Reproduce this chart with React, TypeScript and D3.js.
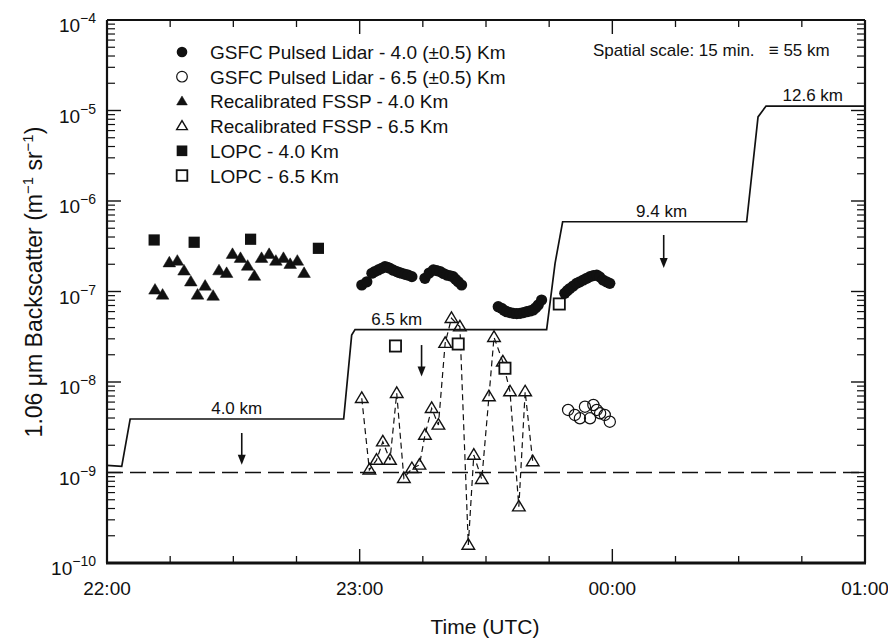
import React from "react";
import * as d3 from "d3";

// ---------- data (time in minutes after 22:00 UTC, backscatter in m^-1 sr^-1) ----------
const timeTickMinutes = [0, 60, 120, 180];
const timeTickLabels = ["22:00", "23:00", "00:00", "01:00"];
const decadeExponents = [-10, -9, -8, -7, -6, -5, -4];

// GSFC Pulsed Lidar - 4.0 (±0.5) Km (filled circles)
const gsfc40Min = [60.5, 61.7, 62.9, 63.6, 64.4, 65.2, 66.0, 66.6, 67.2, 68.0, 68.8, 69.4, 70.0, 70.8, 71.5, 72.4,
  75.5, 76.5, 77.5, 78.3, 79.1, 79.9, 80.7, 81.5, 82.2, 82.8, 83.4, 84.2,
  92.9, 93.7, 94.3, 94.9, 95.7, 96.5, 97.3, 98.1, 98.9, 99.7, 100.5, 101.2, 101.8, 102.4, 103.2,
  108.7, 109.3, 109.9, 110.7, 111.5, 112.3, 113.1, 113.9, 114.7, 115.5, 116.3, 117.0, 117.8, 118.6, 119.4];
const gsfc40Val = [1.18e-7, 1.28e-7, 1.59e-7, 1.66e-7, 1.73e-7, 1.8e-7, 1.88e-7, 1.85e-7, 1.8e-7, 1.72e-7, 1.66e-7, 1.62e-7, 1.59e-7, 1.55e-7, 1.52e-7, 1.46e-7,
  1.4e-7, 1.6e-7, 1.73e-7, 1.7e-7, 1.66e-7, 1.58e-7, 1.52e-7, 1.49e-7, 1.46e-7, 1.36e-7, 1.28e-7, 1.18e-7,
  6.79e-8, 6.52e-8, 6.2e-8, 5.98e-8, 5.85e-8, 5.74e-8, 5.7e-8, 5.74e-8, 5.85e-8, 5.98e-8, 6.1e-8, 6.25e-8, 6.6e-8, 7.1e-8, 8.05e-8,
  9.55e-8, 1.02e-7, 1.08e-7, 1.15e-7, 1.23e-7, 1.28e-7, 1.34e-7, 1.4e-7, 1.46e-7, 1.5e-7, 1.52e-7, 1.45e-7, 1.34e-7, 1.28e-7, 1.23e-7];

// GSFC Pulsed Lidar - 6.5 (±0.5) Km (open circles)
const gsfc65Min = [109.5, 111.1, 112.3, 113.5, 114.7, 115.5, 116.3, 117.1, 118.2, 119.4];
const gsfc65Val = [4.91e-9, 4.32e-9, 3.97e-9, 5.33e-9, 3.97e-9, 5.57e-9, 4.91e-9, 4.51e-9, 4.32e-9, 3.64e-9];

// Recalibrated FSSP - 4.0 Km (filled triangles)
const fssp40Min = [11.4, 13.2, 14.8, 16.7, 18.3, 19.9, 21.5, 23.3, 25.2, 26.6, 28.4, 29.8, 31.7, 33.4, 35.0, 36.7, 38.5, 40.1, 41.9, 43.5, 45.2, 46.8];
const fssp40Val = [1.04e-7, 9.15e-8, 2.08e-7, 2.17e-7, 1.69e-7, 1.28e-7, 9.15e-8, 1.15e-7, 8.9e-8, 1.7e-7, 1.59e-7, 2.58e-7, 2.33e-7, 1.91e-7, 1.48e-7, 2.33e-7, 2.58e-7, 2.17e-7, 2.33e-7, 2.0e-7, 2.17e-7, 1.59e-7];

// Recalibrated FSSP - 6.5 Km (open triangles, dashed connections)
const fssp65Min = [60.5, 62.3, 64.0, 65.5, 67.2, 68.8, 70.5, 72.4, 74.2, 75.5, 77.1, 78.7, 80.3, 81.8, 83.8, 85.8, 87.1, 89.0, 90.7, 91.9, 94.0, 95.7, 97.8, 99.3, 101.1];
const fssp65Val = [6.61e-9, 1.07e-9, 1.37e-9, 2.19e-9, 1.37e-9, 7.5e-9, 8.63e-10, 1.11e-9, 1.21e-9, 2.59e-9, 5.12e-9, 3.35e-9, 2.68e-8, 5.06e-8, 4.08e-8, 1.58e-10, 1.56e-9, 8.41e-10, 6.89e-9, 3.12e-8, 1.67e-8, 7.82e-9, 4.19e-10, 7.82e-9, 1.32e-9];

// LOPC - 4.0 Km (filled squares)
const lopc40Min = [11.2, 20.7, 34.1, 50.2];
const lopc40Val = [3.71e-7, 3.5e-7, 3.78e-7, 3.0e-7];

// LOPC - 6.5 Km (open squares)
const lopc65Min = [68.5, 83.4, 94.5, 107.4];
const lopc65Val = [2.5e-8, 2.63e-8, 1.42e-8, 7.28e-8];

// Solid step curve
const stepMin = [0, 3.5, 5.5, 55.7, 56.2, 58.1, 58.9, 104.4, 106.4, 108.2, 151.9, 154.6, 156.5, 180];
const stepVal = [1.2e-9, 1.17e-9, 3.9e-9, 3.9e-9, 3.9e-9, 3.3e-8, 3.8e-8, 3.8e-8, 2.05e-7, 5.9e-7, 5.9e-7, 8.5e-6, 1.12e-5, 1.12e-5];
const stepLabels = ["4.0 km", "6.5 km", "9.4 km", "12.6 km"];
const stepLabelMin = [30.8, 68.8, 131.7, 167.6];
const stepLabelVal = [3.9e-9, 3.8e-8, 5.9e-7, 1.12e-5];

// Downward arrows
const arrowMin = [32.0, 74.7, 132.2];
const arrowTop = [2.73e-9, 2.56e-8, 4.21e-7];
const arrowBottom = [1.22e-9, 1.15e-8, 1.82e-7];

const thresholdVal = 1e-9;

const legendLabels = [
  "GSFC Pulsed Lidar - 4.0 (\u00b10.5) Km",
  "GSFC Pulsed Lidar - 6.5 (\u00b10.5) Km",
  "Recalibrated FSSP - 4.0 Km",
  "Recalibrated FSSP - 6.5 Km",
  "LOPC - 4.0 Km",
  "LOPC - 6.5 Km",
];
const legendShapes = ["circle", "circle", "triangle", "triangle", "square", "square"];
const legendFilled = [true, false, true, false, true, false];

// ---------- layout ----------
const W = 888, H = 643;
const X0 = 107, X1 = 865, Y0 = 563, Y1 = 20;
const FONT = "'Liberation Sans', Arial, Helvetica, sans-serif";
const INK = "#111";

const x = d3.scaleLinear().domain([0, 180]).range([X0, X1]);
const y = d3.scaleLog().domain([1e-10, 1e-4]).range([Y0, Y1]);

function Marker({ shape, filled, cx, cy, size = 1 }: { shape: string; filled: boolean; cx: number; cy: number; size?: number }) {
  const fill = filled ? INK : "none";
  if (shape === "circle") {
    return <circle cx={cx} cy={cy} r={5.6 * size} fill={filled ? INK : "none"} stroke={INK} strokeWidth={filled ? 0 : 1.2} />;
  }
  if (shape === "triangle") {
    const h = 6.4 * size, w = 6.3 * size;
    return <path d={`M${cx},${cy - h} L${cx + w},${cy + h * 0.65} L${cx - w},${cy + h * 0.65} Z`} fill={fill} stroke={INK} strokeWidth={filled ? 0.5 : 1.4} strokeLinejoin="miter" />;
  }
  const s = 5.6 * size;
  return <rect x={cx - s} y={cy - s} width={2 * s} height={2 * s} fill={filled ? INK : "#fff"} stroke={INK} strokeWidth={filled ? 0 : 1.8} />;
}

export default function App() {
  const stepLine = d3.line<number>().x((_, i) => x(stepMin[i])).y((_, i) => y(stepVal[i]));
  const fsspLine = d3.line<number>().x((_, i) => x(fssp65Min[i])).y((_, i) => y(fssp65Val[i]));

  const majorX = timeTickMinutes;
  const minorX = d3.range(0, 181, 15).filter((m) => m % 60 !== 0);
  const minorY: number[] = [];
  for (let e = -10; e < -4; e++) for (let k = 2; k <= 9; k++) minorY.push(k * Math.pow(10, e));

  return (
    <svg width={W} height={H} style={{ position: "absolute", left: 0, top: 0, background: "#fff" }} fontFamily={FONT}>
      <rect width={W} height={H} fill="#fff" />

      {majorX.map((m) => (
        <g key={"mx" + m}>
          <line x1={x(m)} x2={x(m)} y1={Y0} y2={Y0 - 14} stroke={INK} strokeWidth={1.4} />
          <line x1={x(m)} x2={x(m)} y1={Y1} y2={Y1 + 14} stroke={INK} strokeWidth={1.4} />
        </g>
      ))}
      {minorX.map((m) => (
        <g key={"nx" + m}>
          <line x1={x(m)} x2={x(m)} y1={Y0} y2={Y0 - 7} stroke={INK} strokeWidth={1.3} />
          <line x1={x(m)} x2={x(m)} y1={Y1} y2={Y1 + 7} stroke={INK} strokeWidth={1.3} />
        </g>
      ))}
      {decadeExponents.map((e) => (
        <g key={"my" + e}>
          <line x1={X0} x2={X0 + 14} y1={y(Math.pow(10, e))} y2={y(Math.pow(10, e))} stroke={INK} strokeWidth={1.4} />
          <line x1={X1} x2={X1 - 14} y1={y(Math.pow(10, e))} y2={y(Math.pow(10, e))} stroke={INK} strokeWidth={1.4} />
        </g>
      ))}
      {minorY.map((v, i) => (
        <g key={"ny" + i}>
          <line x1={X0} x2={X0 + 8} y1={y(v)} y2={y(v)} stroke={INK} strokeWidth={1.2} />
          <line x1={X1} x2={X1 - 8} y1={y(v)} y2={y(v)} stroke={INK} strokeWidth={1.2} />
        </g>
      ))}

      <line x1={X0} x2={X1} y1={Y1} y2={Y1} stroke={INK} strokeWidth={2.2} />
      <line x1={X0} x2={X0} y1={Y1} y2={Y0} stroke={INK} strokeWidth={2.2} />
      <line x1={X1} x2={X1} y1={Y1} y2={Y0} stroke={INK} strokeWidth={2.2} />
      <line x1={X0 - 1} x2={X1 + 1} y1={Y0} y2={Y0} stroke={INK} strokeWidth={3} />

      {decadeExponents.map((e) => (
        <text key={"yl" + e} x={96} y={y(Math.pow(10, e)) + 12} textAnchor="end" fontSize={19} fill={INK}>
          <tspan>10</tspan>
          <tspan dy={-9} fontSize={14}>{"\u2212" + Math.abs(e)}</tspan>
        </text>
      ))}
      {timeTickMinutes.map((m, i) => (
        <text key={"xl" + m} x={x(m)} y={595} textAnchor="middle" fontSize={19} fill={INK}>{timeTickLabels[i]}</text>
      ))}

      <text x={485} y={634} textAnchor="middle" fontSize={21} fill={INK}>Time (UTC)</text>
      <text transform={`translate(42,282) rotate(-90)`} textAnchor="middle" fontSize={23} fill={INK}>
        <tspan>1.06 {"\u03bc"}m Backscatter (m</tspan>
        <tspan dy={-9} fontSize={15}>{"\u2212"}1</tspan>
        <tspan dy={9}> sr</tspan>
        <tspan dy={-9} fontSize={15}>{"\u2212"}1</tspan>
        <tspan dy={9}>)</tspan>
      </text>

      <line x1={X0} x2={X1} y1={y(thresholdVal)} y2={y(thresholdVal)} stroke={INK} strokeWidth={1.4} strokeDasharray="16 7" />

      <path d={stepLine(stepMin) || ""} fill="none" stroke={INK} strokeWidth={1.7} />
      {stepLabels.map((s, i) => (
        <text key={s} x={x(stepLabelMin[i])} y={y(stepLabelVal[i]) - 5} textAnchor="middle" fontSize={17} fill={INK}>{s}</text>
      ))}

      {arrowMin.map((m, i) => {
        const ax = x(m), yt = y(arrowTop[i]), yb = y(arrowBottom[i]);
        return (
          <g key={"ar" + i}>
            <line x1={ax} x2={ax} y1={yt} y2={yb - 8} stroke={INK} strokeWidth={1.6} />
            <path d={`M${ax - 4},${yb - 10} L${ax + 4},${yb - 10} L${ax},${yb} Z`} fill={INK} />
          </g>
        );
      })}

      <path d={fsspLine(fssp65Min) || ""} fill="none" stroke={INK} strokeWidth={1.2} strokeDasharray="6 4" />

      {lopc40Min.map((m, i) => <Marker key={"l4" + i} shape="square" filled cx={x(m)} cy={y(lopc40Val[i])} />)}
      {fssp40Min.map((m, i) => <Marker key={"f4" + i} shape="triangle" filled cx={x(m)} cy={y(fssp40Val[i])} />)}
      {gsfc40Min.map((m, i) => <Marker key={"g4" + i} shape="circle" filled cx={x(m)} cy={y(gsfc40Val[i])} />)}
      {gsfc65Min.map((m, i) => <Marker key={"g6" + i} shape="circle" filled={false} cx={x(m)} cy={y(gsfc65Val[i])} />)}
      {fssp65Min.map((m, i) => <Marker key={"f6" + i} shape="triangle" filled={false} cx={x(m)} cy={y(fssp65Val[i])} />)}
      {lopc65Min.map((m, i) => <Marker key={"l6" + i} shape="square" filled={false} cx={x(m)} cy={y(lopc65Val[i])} />)}

      {legendLabels.map((lab, i) => {
        const ly = 52 + i * 24.7;
        return (
          <g key={"lg" + i}>
            <Marker shape={legendShapes[i]} filled={legendFilled[i]} cx={182} cy={ly} size={legendShapes[i] === "triangle" ? 0.85 : 0.95} />
            <text x={210} y={ly + 7} fontSize={19} fill={INK}>{lab}</text>
          </g>
        );
      })}

      <text x={593} y={56} fontSize={17} fill={INK}>{"Spatial scale: 15 min.\u00a0\u00a0\u00a0\u2261 55 km"}</text>
    </svg>
  );
}
